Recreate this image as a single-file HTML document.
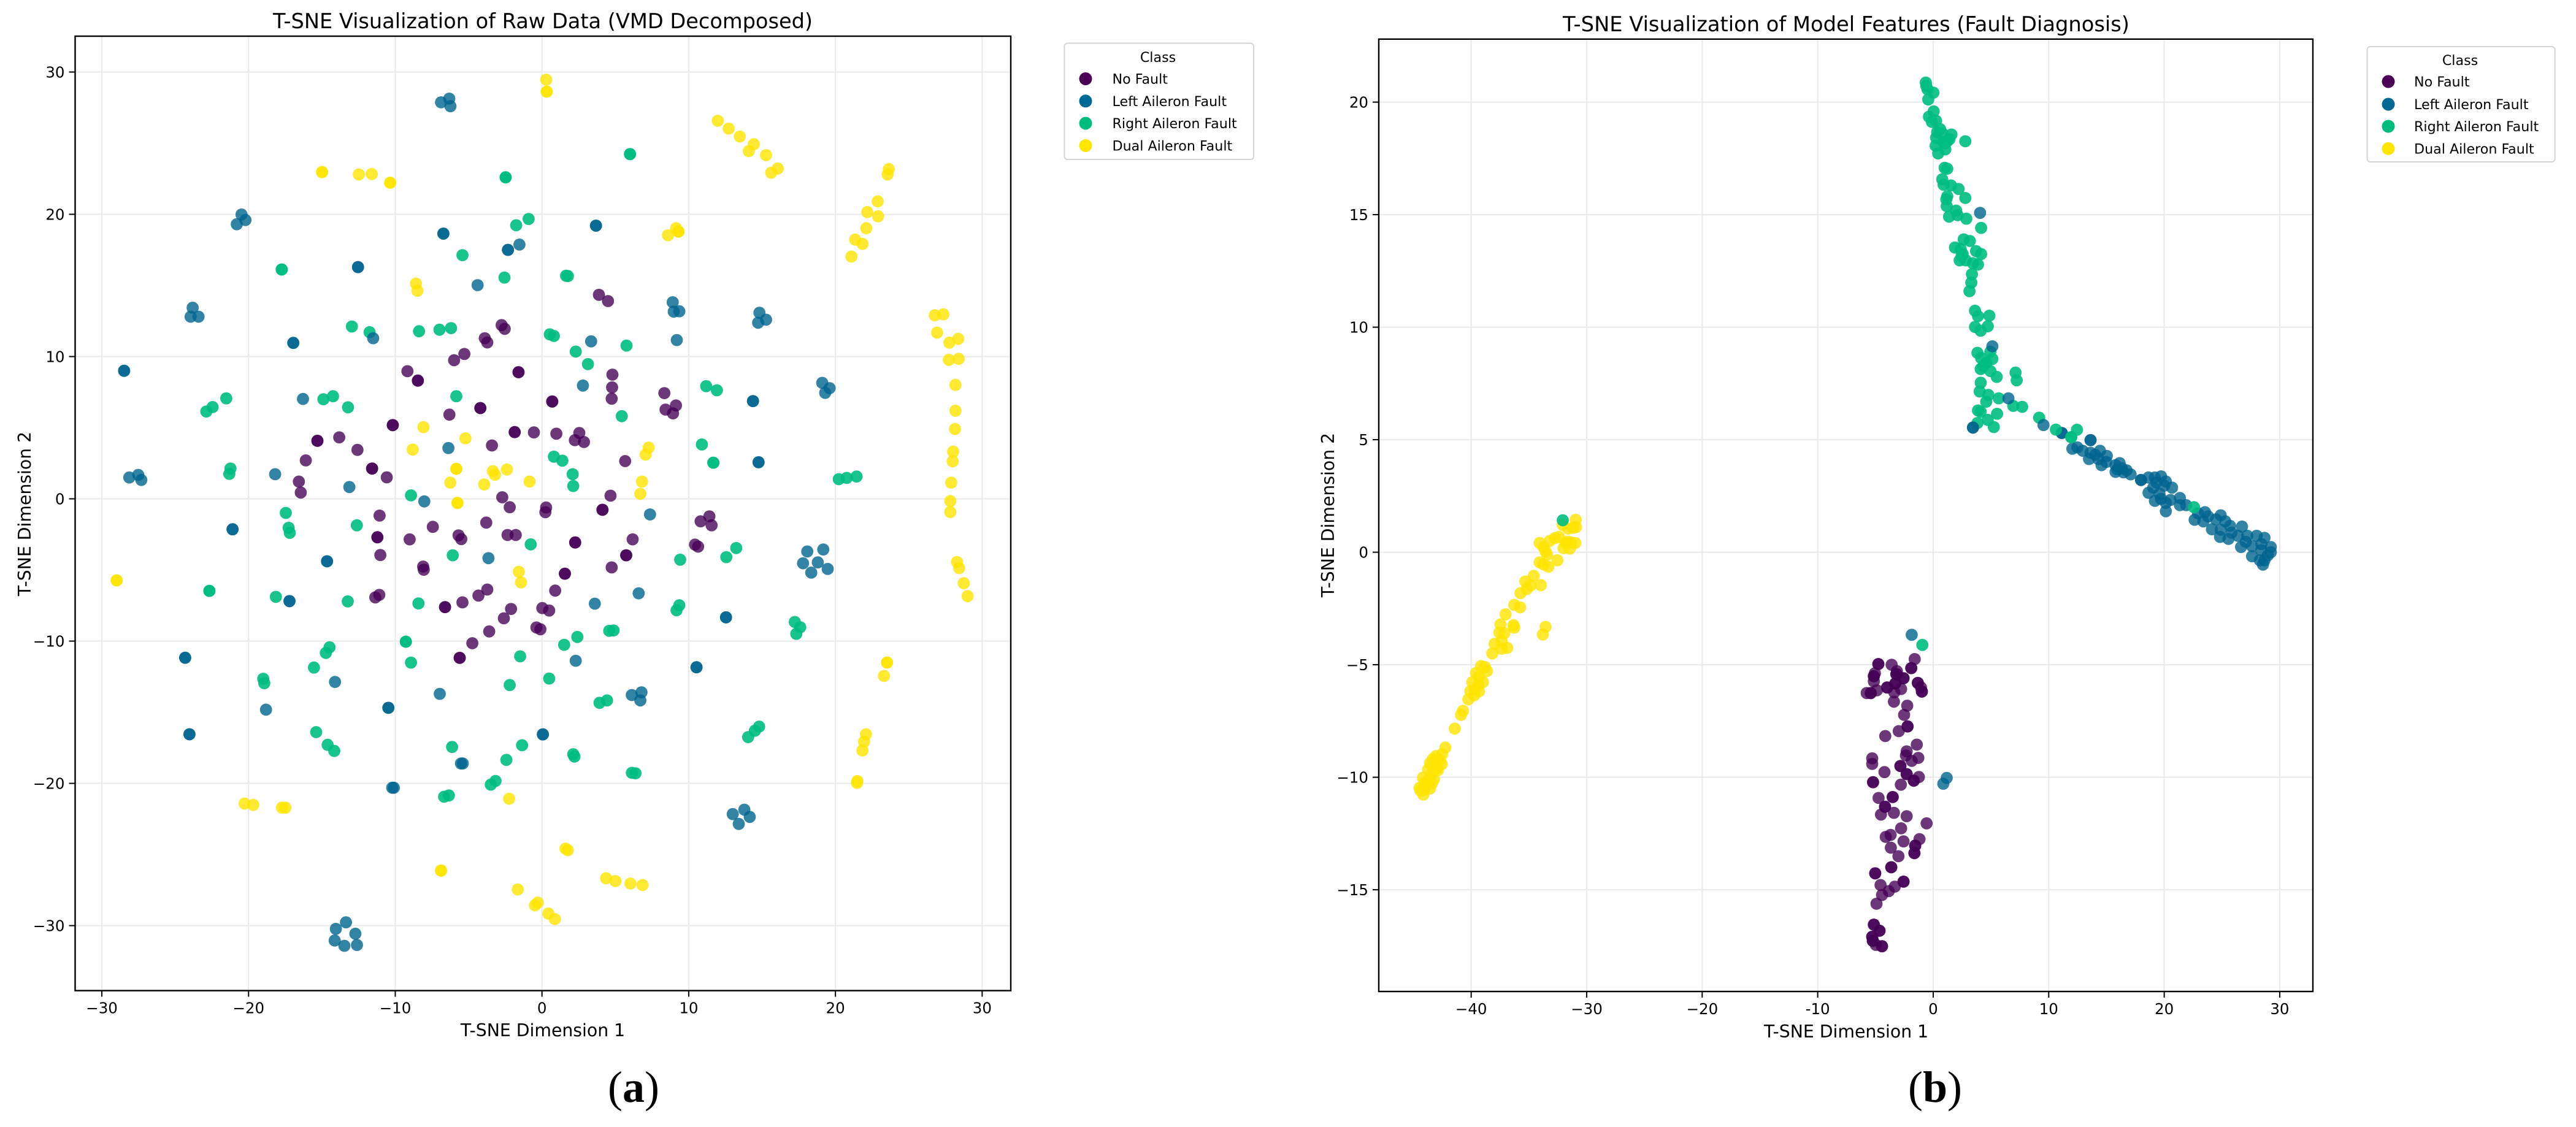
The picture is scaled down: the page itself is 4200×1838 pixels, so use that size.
<!DOCTYPE html>
<html lang="en">
<head>
<meta charset="utf-8">
<title>T-SNE Visualizations</title>
<style>
html,body{margin:0;padding:0;background:#fff;}
svg{display:block;}
text{font-family:"DejaVu Sans",sans-serif;fill:#000;}
.ser{font-family:"Liberation Serif",serif;font-size:72px;}
</style>
</head>
<body>
<svg id="figure" xmlns="http://www.w3.org/2000/svg" width="4200" height="1838" viewBox="0 0 4200 1838">
  <rect x="0" y="0" width="4200" height="1838" fill="#ffffff"/>
  <g id="chartA"></g>
  <g id="chartB"></g>

  <text x="885" y="46" text-anchor="middle" font-size="33.6">T-SNE Visualization of Raw Data (VMD Decomposed)</text>
  <text x="885" y="1690" text-anchor="middle" font-size="28.3">T-SNE Dimension 1</text>
  <text transform="translate(50 838) rotate(-90)" text-anchor="middle" font-size="28.3">T-SNE Dimension 2</text>

  <text x="3010" y="51" text-anchor="middle" font-size="33.7">T-SNE Visualization of Model Features (Fault Diagnosis)</text>
  <text x="3010" y="1692" text-anchor="middle" font-size="28.3">T-SNE Dimension 1</text>
  <text transform="translate(2175 840) rotate(-90)" text-anchor="middle" font-size="28.3">T-SNE Dimension 2</text>

  <g>
    <rect x="1735.5" y="70.5" width="308.5" height="189.5" rx="5" fill="#fff" stroke="#d4d4d4" stroke-width="2"/>
    <text x="1888" y="101" text-anchor="middle" font-size="22.2">Class</text>
    <g><circle cx="1770" cy="128.5" r="10.5" fill="#4a0055"/><text x="1813.5" y="136.5" font-size="22.2">No Fault</text></g>
    <g><circle cx="1770" cy="164.8" r="10.5" fill="#006895"/><text x="1813.5" y="172.8" font-size="22.2">Left Aileron Fault</text></g>
    <g><circle cx="1770" cy="201" r="10.5" fill="#00bd7e"/><text x="1813.5" y="209" font-size="22.2">Right Aileron Fault</text></g>
    <g><circle cx="1770" cy="237.4" r="10.5" fill="#ffe600"/><text x="1813.5" y="245.4" font-size="22.2">Dual Aileron Fault</text></g>
  </g>

  <g>
    <rect x="3859.6" y="76" width="306" height="188" rx="5" fill="#fff" stroke="#d4d4d4" stroke-width="2"/>
    <text x="4011" y="106" text-anchor="middle" font-size="22.2">Class</text>
    <g><circle cx="3894" cy="133" r="10.5" fill="#4a0055"/><text x="3936" y="141" font-size="22.2">No Fault</text></g>
    <g><circle cx="3894" cy="170" r="10.5" fill="#006895"/><text x="3936" y="178" font-size="22.2">Left Aileron Fault</text></g>
    <g><circle cx="3894" cy="206" r="10.5" fill="#00bd7e"/><text x="3936" y="214" font-size="22.2">Right Aileron Fault</text></g>
    <g><circle cx="3894" cy="242.4" r="10.5" fill="#ffe600"/><text x="3936" y="250.4" font-size="22.2">Dual Aileron Fault</text></g>
  </g>

  <text class="ser" x="1033" y="1797" text-anchor="middle">(<tspan font-weight="bold">a</tspan>)</text>
  <text class="ser" x="3155" y="1797" text-anchor="middle">(<tspan font-weight="bold">b</tspan>)</text>
</svg>

<script>
// ---------- Panel (a) data ----------
const rawXTicks = [-30,-20,-10,0,10,20,30];
const rawXTickLabels = ["\u221230","\u221220","\u221210","0","10","20","30"];
const rawYTicks = [30,20,10,0,-10,-20,-30];
const rawYTickLabels = ["30","20","10","0","\u221210","\u221220","\u221230"];

const rawNoFault = [[3.88,14.34],[4.5,13.9],[-2.75,12.21],[-2.54,11.95],[-3.9,11.29],[-3.73,10.99],[-5.29,10.18],[-5.99,9.74],[-9.17,8.97],[-8.46,8.31],[-8.46,8.31],[-1.6,8.9],[-1.6,8.9],[4.8,8.73],[4.78,7.83],[4.75,7.04],[8.34,7.43],[9.13,6.56],[8.42,6.27],[8.93,6.01],[0.7,6.84],[0.7,6.84],[-4.2,6.38],[-4.2,6.38],[-6.31,5.92],[-10.17,5.18],[-10.17,5.18],[-1.86,4.69],[-1.86,4.69],[-0.55,4.67],[0.98,4.58],[2.54,4.63],[2.24,4.12],[2.86,3.99],[-15.31,4.08],[-15.31,4.08],[-13.82,4.32],[-12.58,3.44],[-16.1,2.7],[-11.58,2.13],[-11.58,2.13],[-10.58,1.51],[-16.57,1.21],[-16.44,0.44],[-3.41,3.75],[5.67,2.65],[4.67,0.22],[-2.71,0.11],[-2.2,-0.59],[0.28,-0.61],[0.23,-0.94],[4.12,-0.77],[4.12,-0.77],[-11.07,-1.18],[-3.8,-1.67],[-7.44,-1.97],[-5.69,-2.57],[-5.5,-2.83],[-2.35,-2.54],[-1.79,-2.54],[-9.02,-2.85],[-11.22,-2.7],[-11.22,-2.7],[2.26,-3.07],[2.26,-3.07],[6.18,-2.85],[10.43,-3.22],[10.64,-3.36],[-11.02,-3.95],[5.74,-3.97],[5.74,-3.97],[-8.1,-4.76],[-8.06,-4.98],[1.56,-5.26],[1.56,-5.26],[4.75,-4.82],[0.9,-6.45],[-3.73,-6.38],[-4.33,-6.8],[-5.42,-7.28],[-6.61,-7.61],[-6.61,-7.61],[-11.09,-6.75],[-11.36,-6.93],[0.02,-7.68],[0.49,-7.85],[-2.11,-7.74],[-2.6,-8.4],[-0.38,-9.04],[-0.11,-9.17],[-3.6,-9.32],[-4.75,-10.15],[-5.61,-11.18],[-5.61,-11.18],[10.81,-1.58],[11.41,-1.23],[11.56,-1.86]];

const rawLeftFault = [[-2.32,17.5],[-2.32,17.5],[-1.54,17.87],[-4.39,15.02],[-12.54,16.29],[-12.54,16.29],[-16.95,10.96],[-16.95,10.96],[-11.51,11.29],[8.91,13.82],[8.98,13.16],[9.36,13.18],[9.19,11.16],[3.35,11.07],[2.79,7.96],[-16.29,7.02],[-6.38,3.57],[-18.19,1.73],[-13.13,0.83],[-8.02,-0.18],[7.36,-1.1],[-14.65,-4.39],[-14.65,-4.39],[-3.65,-4.17],[-17.21,-7.19],[-17.21,-7.19],[3.6,-7.37],[6.59,-6.64],[12.54,-8.33],[12.54,-8.33],[2.3,-11.38],[10.53,-11.84],[10.53,-11.84],[-14.11,-12.87],[-6.97,-13.71],[-18.81,-14.82],[-10.47,-14.69],[-10.47,-14.69],[6.12,-13.79],[6.78,-13.6],[6.7,-14.17],[0.06,-16.56],[0.06,-16.56],[-6.88,27.87],[-6.32,28.13],[-6.24,27.6],[-20.8,19.3],[-20.48,19.98],[-20.21,19.6],[-23.81,13.43],[-23.95,12.8],[-23.41,12.8],[-28.48,9.0],[-28.48,9.0],[-6.72,18.64],[-6.72,18.64],[3.68,19.2],[3.68,19.2],[-28.13,1.5],[-27.52,1.68],[-27.31,1.33],[14.82,13.08],[14.73,12.38],[15.27,12.59],[19.1,8.15],[19.6,7.78],[19.3,7.45],[14.38,6.87],[14.38,6.87],[14.76,2.57],[14.76,2.57],[18.08,-3.7],[19.17,-3.56],[17.79,-4.53],[18.8,-4.47],[18.35,-5.19],[19.47,-4.93],[13.0,-22.16],[13.79,-21.85],[14.16,-22.36],[13.41,-22.85],[-21.09,-2.14],[-21.09,-2.14],[-24.32,-11.17],[-24.32,-11.17],[-24.03,-16.55],[-24.03,-16.55],[-5.52,-18.6],[-5.4,-18.6],[-10.21,-20.31],[-10.1,-20.31],[-13.36,-29.77],[-14.05,-30.23],[-12.72,-30.57],[-14.13,-31.05],[-13.47,-31.42],[-12.61,-31.36]];

const rawRightFault = [[-5.42,17.13],[-2.56,15.55],[1.64,15.68],[1.77,15.66],[-17.74,16.12],[-17.74,16.12],[-12.96,12.11],[-11.75,11.71],[-8.38,11.78],[-6.99,11.89],[-6.2,12.0],[0.53,11.56],[0.81,11.45],[2.3,10.35],[3.13,9.47],[5.76,10.77],[11.19,7.92],[11.92,7.63],[5.44,5.81],[-5.84,7.21],[-14.9,7.0],[-14.24,7.21],[-13.22,6.43],[0.81,2.96],[1.39,2.68],[10.9,3.82],[11.68,2.54],[11.68,2.54],[2.09,1.73],[2.13,0.9],[-8.93,0.24],[-17.46,-0.99],[-17.27,-2.04],[-17.19,-2.39],[-12.62,-1.86],[-0.77,-3.2],[-6.08,-3.97],[9.42,-4.28],[12.56,-4.1],[13.24,-3.46],[-18.14,-6.89],[-13.24,-7.21],[-8.42,-7.35],[9.36,-7.48],[9.17,-7.83],[4.58,-9.28],[4.88,-9.25],[2.41,-9.71],[1.51,-10.26],[-9.28,-10.04],[-9.28,-10.04],[-1.49,-11.07],[-8.93,-11.51],[-14.48,-10.44],[-14.73,-10.83],[-15.54,-11.86],[-19.0,-12.65],[-18.93,-12.96],[-2.2,-13.09],[0.49,-12.63],[3.92,-14.34],[4.43,-14.17],[-15.39,-16.4],[-2.48,22.6],[-2.48,22.6],[-0.91,19.67],[-1.76,19.23],[-22.88,6.14],[-22.45,6.45],[-21.52,7.06],[-21.23,2.13],[-21.31,1.75],[6.0,24.23],[6.0,24.23],[20.23,1.38],[20.77,1.47],[21.44,1.57],[-22.67,-6.47],[-22.67,-6.47],[-14.61,-17.29],[-14.16,-17.72],[-6.13,-17.44],[-2.43,-18.35],[-1.36,-17.32],[2.13,-17.95],[2.21,-18.12],[-3.49,-20.09],[-3.17,-19.83],[-6.67,-20.94],[-6.35,-20.85],[17.23,-8.66],[17.6,-9.03],[17.33,-9.49],[14.05,-16.75],[14.51,-16.3],[14.8,-16.01],[6.13,-19.26],[6.37,-19.29]];

const rawDualFault = [[-8.59,15.13],[-8.49,14.63],[-8.08,5.04],[-5.22,4.25],[-8.81,3.46],[-5.84,2.11],[-5.84,2.11],[-6.25,1.14],[-3.35,1.95],[-3.2,1.69],[-2.39,2.06],[-3.94,1.01],[-0.85,1.21],[-5.76,-0.29],[-5.76,-0.29],[7.27,3.6],[7.06,3.11],[6.82,1.21],[6.7,0.35],[-1.58,-5.13],[-1.43,-5.88],[0.29,29.46],[0.32,28.62],[0.32,28.62],[-14.99,22.97],[-14.99,22.97],[-12.48,22.8],[-11.6,22.83],[-10.35,22.22],[-10.35,22.22],[11.98,26.57],[12.72,26.03],[13.48,25.47],[14.44,24.93],[14.09,24.44],[15.27,24.16],[16.07,23.22],[15.62,22.92],[23.64,23.18],[23.55,22.8],[22.88,20.91],[22.17,20.16],[22.91,19.86],[22.1,19.02],[21.34,18.22],[21.85,17.92],[21.09,17.03],[9.14,19.02],[9.3,18.79],[9.3,18.79],[8.59,18.53],[26.77,12.9],[27.35,12.97],[26.93,11.68],[27.76,10.98],[28.37,11.24],[27.73,9.77],[28.4,9.84],[28.18,8.01],[28.18,6.19],[28.15,4.91],[28.02,3.32],[27.99,2.64],[27.89,1.14],[27.83,-0.16],[27.83,-0.93],[-28.99,-5.73],[-28.99,-5.73],[-20.27,-21.42],[-19.68,-21.51],[-17.73,-21.71],[-17.49,-21.71],[-2.24,-21.08],[-6.88,-26.13],[-6.88,-26.13],[1.6,-24.59],[1.76,-24.7],[-1.65,-27.46],[-0.48,-28.57],[-0.29,-28.38],[0.43,-29.15],[0.88,-29.54],[4.37,-26.67],[5.01,-26.87],[6.03,-27.04],[6.85,-27.15],[28.29,-4.44],[28.43,-4.87],[28.75,-5.93],[29.01,-6.84],[23.52,-11.51],[23.52,-11.51],[23.31,-12.45],[22.08,-16.55],[21.95,-17.07],[21.84,-17.69],[21.49,-19.83],[21.47,-19.97]];

// ---------- Panel (b) data ----------
const featXTicks = [-40,-30,-20,-10,0,10,20,30];
const featXTickLabels = ["\u221240","\u221230","\u221220","-10","0","10","20","30"];
const featYTicks = [20,15,10,5,0,-5,-10,-15];
const featYTickLabels = ["20","15","10","5","0","\u22125","\u221210","\u221215"];

const featNoFault = [[-1.6,-4.75],[-4.75,-4.97],[-4.75,-4.97],[-3.6,-5.0],[-1.9,-5.15],[-1.9,-5.15],[-5.05,-5.38],[-3.14,-5.29],[-5.14,-5.51],[-5.14,-5.51],[-3.19,-5.42],[-3.19,-5.42],[-2.57,-5.6],[-2.57,-5.6],[-5.14,-5.74],[-3.28,-5.83],[-3.28,-5.83],[-1.33,-5.81],[-1.33,-5.81],[-1.06,-6.01],[-3.99,-6.01],[-3.99,-6.01],[-2.78,-6.08],[-4.88,-6.14],[-0.98,-6.19],[-0.98,-6.19],[-3.37,-6.23],[-5.76,-6.26],[-5.41,-6.26],[-5.41,-6.26],[-3.4,-6.64],[-2.25,-6.82],[-2.52,-7.23],[-2.22,-7.74],[-2.22,-7.74],[-2.98,-7.95],[-4.15,-8.17],[-1.42,-8.55],[-2.3,-8.85],[-2.36,-9.03],[-1.29,-9.14],[-1.86,-9.27],[-5.28,-9.16],[-5.28,-9.41],[-2.84,-9.5],[-2.84,-9.5],[-4.22,-9.77],[-2.3,-9.86],[-2.3,-9.86],[-1.24,-9.99],[-1.68,-10.15],[-1.68,-10.15],[-5.21,-10.22],[-5.21,-10.22],[-2.8,-10.33],[-4.73,-10.92],[-3.51,-10.88],[-3.51,-10.88],[-4.17,-11.31],[-4.17,-11.31],[-4.52,-11.66],[-3.4,-11.58],[-2.3,-11.73],[-0.57,-12.05],[-2.78,-12.27],[-3.69,-12.56],[-4.11,-12.65],[-1.19,-12.75],[-2.57,-12.85],[-1.56,-13.04],[-1.56,-13.04],[-3.67,-13.13],[-1.63,-13.37],[-1.63,-13.37],[-3.01,-13.51],[-3.63,-14.0],[-3.63,-14.0],[-5.02,-14.27],[-5.02,-14.27],[-2.57,-14.64],[-2.57,-14.64],[-3.33,-14.86],[-4.56,-14.79],[-3.85,-15.06],[-4.43,-15.23],[-4.91,-15.62],[-5.14,-16.55],[-5.14,-16.55],[-4.65,-16.82],[-4.65,-16.82],[-5.28,-17.09],[-5.28,-17.09],[-5.23,-17.27],[-5.23,-17.27],[-4.96,-17.45],[-4.43,-17.51],[-4.43,-17.51]];

const featRightFault = [[-0.64,20.87],[-0.6,20.72],[-0.5,20.57],[0.02,20.42],[-0.43,20.12],[0.04,19.59],[-0.37,19.35],[-0.11,19.12],[0.25,19.17],[0.6,18.8],[0.34,18.67],[1.58,18.56],[0.78,18.62],[0.25,18.42],[1.4,18.35],[1.22,18.26],[2.78,18.26],[0.87,18.22],[0.21,18.06],[1.05,17.9],[1.05,18.17],[0.43,17.72],[0.99,17.08],[1.22,17.04],[0.78,16.57],[0.9,16.33],[1.54,16.3],[2.2,16.14],[1.22,15.82],[2.78,15.74],[1.13,15.68],[1.17,15.38],[1.99,15.18],[2.11,14.98],[1.37,14.91],[2.87,14.82],[4.15,14.41],[2.64,13.9],[3.17,13.83],[1.88,13.54],[2.38,13.47],[3.71,13.38],[4.15,13.25],[2.55,13.25],[2.29,12.97],[2.82,12.97],[3.44,12.84],[3.88,12.78],[2.46,13.16],[3.35,12.36],[3.3,11.98],[3.14,11.6],[3.62,10.73],[3.88,10.49],[4.86,10.51],[3.62,10.01],[4.73,10.04],[4.11,9.84],[3.83,8.86],[4.95,8.91],[4.15,8.63],[5.12,8.59],[4.59,8.41],[4.11,8.14],[4.95,8.05],[5.5,7.79],[4.33,8.27],[7.13,7.98],[7.23,7.64],[4.11,7.53],[4.02,7.14],[4.77,6.99],[4.59,6.69],[5.67,6.84],[6.93,6.5],[7.7,6.46],[3.88,6.3],[4.11,6.24],[5.53,6.15],[4.72,5.88],[3.83,5.74],[5.25,5.56],[9.17,5.98],[12.45,5.44],[-0.94,-4.12]];

const featLeftFault = [[-1.86,-3.67],[1.17,-10.03],[0.87,-10.29],[4.06,15.08],[5.12,9.15],[6.51,6.84],[3.44,5.54],[3.44,5.54],[9.55,5.65],[11.13,5.3],[11.13,5.3],[13.62,4.98],[13.62,4.98],[12.05,4.6],[12.48,4.66],[12.94,4.51],[13.49,4.14],[13.62,4.42],[14.03,4.33],[14.44,4.51],[14.3,4.14],[15.03,4.28],[14.57,3.87],[14.98,4.01],[15.79,3.87],[16.14,3.96],[15.93,3.69],[15.79,3.57],[16.34,3.73],[16.47,3.55],[17.09,3.46],[16.74,3.64],[17.99,3.21],[17.99,3.21],[18.64,3.32],[19.19,3.32],[19.73,3.37],[19.32,3.1],[20.14,3.14],[19.05,2.87],[20.68,2.87],[20.0,2.96],[18.64,2.64],[19.59,2.6],[19.19,2.28],[19.73,2.37],[20.54,2.32],[20.14,2.19],[20.14,1.82],[21.36,2.41],[21.36,2.09],[21.9,2.09],[22.63,1.44],[22.93,1.73],[23.53,1.78],[23.39,1.37],[23.8,1.59],[24.89,1.64],[24.48,1.46],[25.29,1.37],[24.13,1.02],[24.89,1.0],[25.7,1.17],[24.83,0.68],[25.56,0.59],[25.83,0.87],[26.73,1.14],[26.38,0.73],[27.19,0.73],[28.0,0.73],[28.68,0.64],[26.65,0.23],[27.6,0.27],[28.41,0.36],[29.23,0.23],[29.23,0.0],[27.6,-0.18],[28.28,-0.36],[28.68,-0.36],[28.96,-0.14],[28.55,-0.55],[27.06,0.46],[28.41,0.09]];

const featDualFault = [[-30.95,1.44],[-30.92,1.12],[-32.07,1.21],[-31.6,1.05],[-31.19,1.08],[-32.75,0.63],[-33.2,0.5],[-32.4,0.68],[-34.07,0.41],[-33.73,0.22],[-33.56,0.04],[-33.42,-0.11],[-31.66,0.47],[-31.36,0.43],[-30.98,0.41],[-32.0,0.18],[-31.46,0.16],[-31.83,0.4],[-32.54,-0.36],[-34.07,-0.45],[-33.73,-0.54],[-33.32,-0.65],[-34.58,-1.05],[-35.32,-1.3],[-33.97,-1.46],[-34.85,-1.48],[-35.19,-1.64],[-35.73,-1.82],[-36.27,-2.34],[-35.76,-2.45],[-37.02,-2.76],[-36.34,-3.24],[-37.46,-3.21],[-36.27,-3.35],[-33.56,-3.32],[-33.8,-3.66],[-37.56,-3.57],[-37.12,-3.6],[-37.97,-4.07],[-37.36,-3.96],[-36.88,-4.25],[-37.36,-4.29],[-38.17,-4.5],[-38.81,-5.1],[-39.15,-5.06],[-38.64,-5.28],[-39.59,-5.37],[-39.32,-5.55],[-39.9,-5.78],[-38.98,-5.77],[-39.39,-5.91],[-39.66,-6.09],[-40.07,-6.18],[-39.32,-6.18],[-39.73,-6.36],[-40.24,-6.54],[-40.71,-7.05],[-40.88,-7.23],[-41.42,-7.84],[-42.24,-8.68],[-42.51,-8.97],[-43.05,-9.06],[-43.32,-9.19],[-42.71,-9.24],[-42.54,-9.42],[-43.56,-9.37],[-43.12,-9.48],[-42.88,-9.69],[-43.73,-9.66],[-43.32,-9.78],[-44.17,-10.02],[-43.66,-10.09],[-43.22,-10.09],[-44.07,-10.27],[-43.56,-10.5],[-44.47,-10.47],[-44.07,-10.56],[-44.14,-10.77],[-44.4,-10.59],[-43.83,-10.32],[-43.39,-10.27],[-42.98,-9.6]];

// Right-class points that sit above the other classes in the picture
const featRightOnTop = [[-32.07,1.42],[22.58,2.0],[10.62,5.45],[11.95,5.11],[11.95,5.11]];

// ---------- Class styling ----------
const COLORS = {noFault:"#440054",left:"#00648f",right:"#00bd80",dual:"#ffe400"};
const OPAC = {noFault:0.78,left:0.8,right:0.9,dual:0.8};
const NS = "http://www.w3.org/2000/svg";

function linear(d0,d1,r0,r1){ return v => r0 + (v-d0)*(r1-r0)/(d1-d0); }

function line(parent,x1,y1,x2,y2,stroke,w,name){
  const el = document.createElementNS(NS,"line");
  el.setAttribute("x1",x1); el.setAttribute("y1",y1);
  el.setAttribute("x2",x2); el.setAttribute("y2",y2);
  el.setAttribute("stroke",stroke); el.setAttribute("stroke-width",w);
  
  
  parent.appendChild(el);
}
function label(parent,x,y,anchor,str,name){
  const el = document.createElementNS(NS,"text");
  el.setAttribute("x",x); el.setAttribute("y",y);
  el.setAttribute("text-anchor",anchor); el.setAttribute("font-size","24.5");
  el.textContent = str;
  
  
  parent.appendChild(el);
}
function dots(parent,pts,sx,sy,cls,r){
  pts.forEach(p=>{
    const c = document.createElementNS(NS,"circle");
    c.setAttribute("cx",sx(p[0]).toFixed(1));
    c.setAttribute("cy",sy(p[1]).toFixed(1));
    c.setAttribute("r",r);
    c.setAttribute("fill",COLORS[cls]);
    c.setAttribute("fill-opacity",OPAC[cls]);
    
    
    parent.appendChild(c);
  });
}
function chart(g,cfg){
  const sx = linear(cfg.xd[0],cfg.xd[1],cfg.l,cfg.r);
  const sy = linear(cfg.yd[0],cfg.yd[1],cfg.b,cfg.t);
  const grid = "#e9e9e9";
  cfg.xt.forEach(v=>line(g,sx(v),cfg.t,sx(v),cfg.b,grid,2,"x-gridline"));
  cfg.yt.forEach(v=>line(g,cfg.l,sy(v),cfg.r,sy(v),grid,2,"y-gridline"));
  cfg.series.forEach(s=>dots(g,s[0],sx,sy,s[1],9.9));
  cfg.xt.forEach((v,i)=>{
    line(g,sx(v),cfg.b,sx(v),cfg.b+10,"#000",2,"x-tick");
    label(g,sx(v),cfg.b+37,"middle",cfg.xl[i],"x-tick-label");
  });
  cfg.yt.forEach((v,i)=>{
    line(g,cfg.l-10,sy(v),cfg.l,sy(v),"#000",2,"y-tick");
    label(g,cfg.l-17,sy(v)+9,"end",cfg.yl[i],"y-tick-label");
  });
  const f = document.createElementNS(NS,"rect");
  f.setAttribute("x",cfg.l); f.setAttribute("y",cfg.t);
  f.setAttribute("width",cfg.r-cfg.l); f.setAttribute("height",cfg.b-cfg.t);
  f.setAttribute("fill","none"); f.setAttribute("stroke","#000"); f.setAttribute("stroke-width",2.4);
  
  
  g.appendChild(f);
}

chart(document.getElementById("chartA"),{
  l:122.5,r:1648,t:59,b:1615.6,
  xd:[-31.82,31.95],yd:[-34.57,32.52],
  xt:rawXTicks,xl:rawXTickLabels,yt:rawYTicks,yl:rawYTickLabels,
  series:[[rawNoFault,"noFault"],[rawRightFault,"right"],[rawLeftFault,"left"],[rawDualFault,"dual"]]
});
chart(document.getElementById("chartB"),{
  l:2248,r:3771,t:63.8,b:1617,
  xd:[-48.0,32.87],yd:[-19.52,22.8],
  xt:featXTicks,xl:featXTickLabels,yt:featYTicks,yl:featYTickLabels,
  series:[[featNoFault,"noFault"],[featRightFault,"right"],[featLeftFault,"left"],[featDualFault,"dual"],[featRightOnTop,"right"]]
});
</script>
</body>
</html>
